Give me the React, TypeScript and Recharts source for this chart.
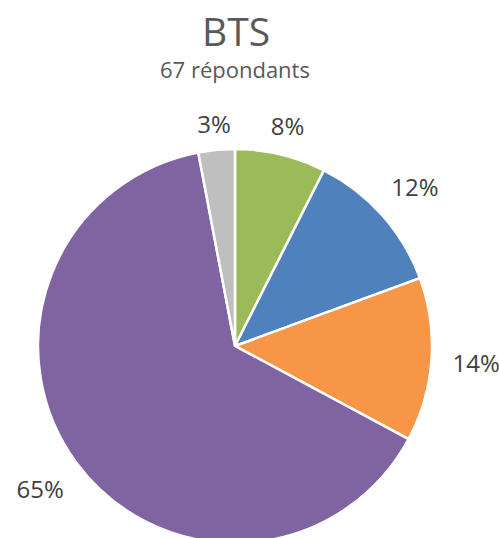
import React from 'react';
import { PieChart, Pie, Cell } from 'recharts';

// respondents per answer (67 total), drawn clockwise from 12 o'clock
const categories = ['A', 'B', 'C', 'D', 'E'];
const counts = [5, 8, 9, 43, 2];
const percentLabels = ['8%', '12%', '14%', '65%', '3%'];
const colors = ['#9BBB59', '#4F81BD', '#F79646', '#8064A2', '#BFBFBF'];

const data = categories.map((name, i) => ({ name, value: counts[i], label: percentLabels[i] }));

const RAD = Math.PI / 180;
const FONT = '"Open Sans", "DejaVu Sans", sans-serif';

// place label box just outside the slice, like Excel's "outside end"
const renderLabel = (props: any) => {
  const { cx, cy, midAngle, outerRadius, index } = props;
  const text = percentLabels[index];
  const dx = Math.cos(-midAngle * RAD);
  const dy = Math.sin(-midAngle * RAD);
  const halfW = (text.length * 20) / 2;
  const halfH = 11;
  const r = outerRadius + 14 + halfW * Math.abs(dx) + halfH * Math.abs(dy);
  return (
    <text
      x={cx + r * dx}
      y={cy + r * dy}
      fill="#404040"
      fontSize={24}
      fontFamily={FONT}
      textAnchor="middle"
      dominantBaseline="central"
    >
      {text}
    </text>
  );
};

export default function App() {
  return (
    <div style={{ position: 'absolute', left: 0, top: 0, width: 499, height: 538, background: '#fff', overflow: 'hidden' }}>
      <div
        style={{
          position: 'absolute', left: 0, top: 8, width: 472, textAlign: 'center',
          fontFamily: FONT, fontSize: 39, color: '#595959', lineHeight: '46px',
        }}
      >
        BTS
      </div>
      <div
        style={{
          position: 'absolute', left: 0, top: 55, width: 470, textAlign: 'center',
          fontFamily: FONT, fontSize: 22, color: '#595959', lineHeight: '28px',
        }}
      >
        67 répondants
      </div>
      <PieChart width={499} height={538}>
        <Pie
          data={data}
          dataKey="value"
          cx={230}
          cy={341}
          outerRadius={197}
          startAngle={90}
          endAngle={-270}
          stroke="#fff"
          strokeWidth={2.5}
          label={renderLabel}
          labelLine={false}
          isAnimationActive={false}
        >
          {data.map((entry, i) => (
            <Cell key={`cell-${i}`} fill={colors[i]} />
          ))}
        </Pie>
      </PieChart>
    </div>
  );
}
